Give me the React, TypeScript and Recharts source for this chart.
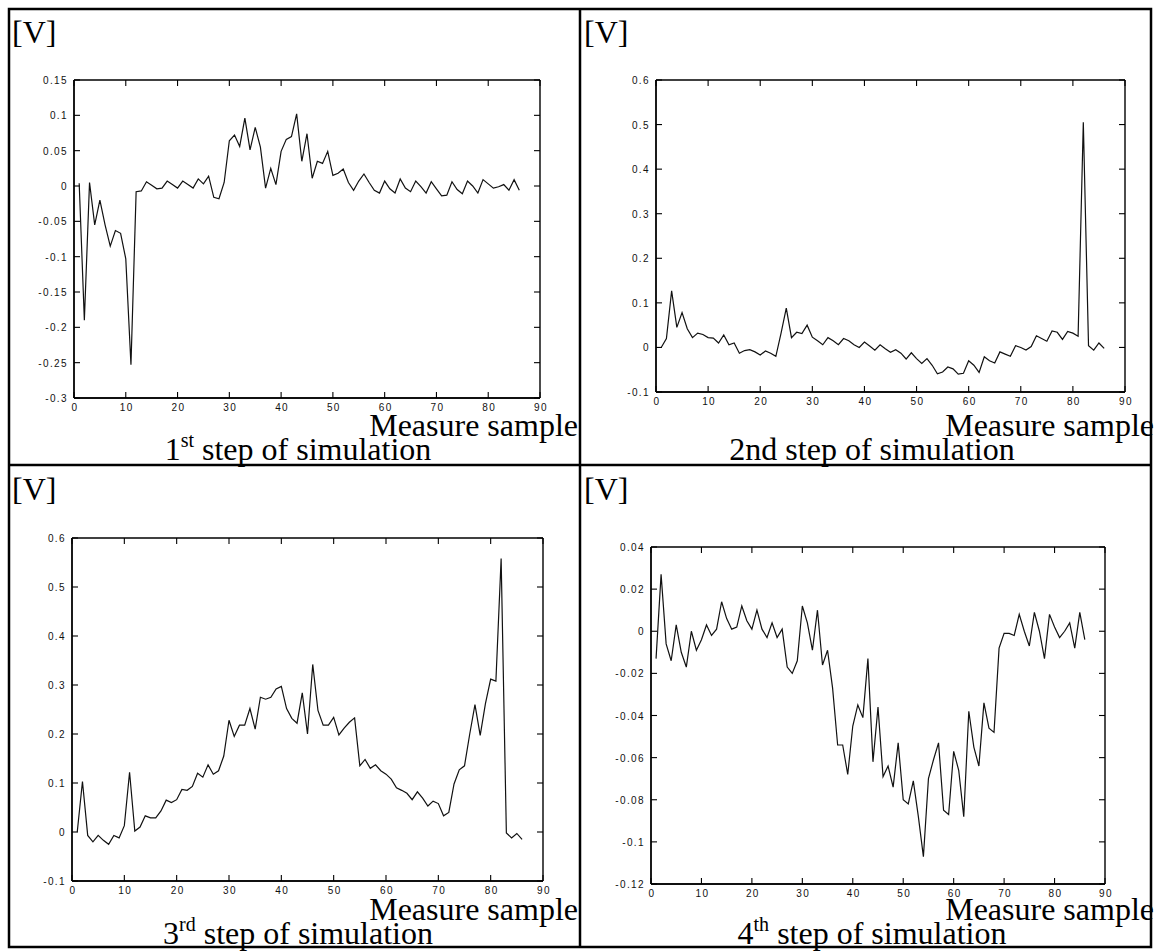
import { LineChart, Line, XAxis, YAxis, ReferenceLine } from "recharts";

// sample index on the x axis
const samples = [
  1, 2, 3, 4, 5, 6, 7, 8, 9, 10, 11, 12, 13, 14, 15, 16, 17, 18, 19, 20, 21, 22,
  23, 24, 25, 26, 27, 28, 29, 30, 31, 32, 33, 34, 35, 36, 37, 38, 39, 40, 41, 42,
  43, 44, 45, 46, 47, 48, 49, 50, 51, 52, 53, 54, 55, 56, 57, 58, 59, 60, 61, 62,
  63, 64, 65, 66, 67, 68, 69, 70, 71, 72, 73, 74, 75, 76, 77, 78, 79, 80, 81, 82,
  83, 84, 85, 86,
];

const xTicks = [0, 10, 20, 30, 40, 50, 60, 70, 80, 90];

// === measured voltages [V] ===
const step1 = [
  0.004, -0.19, 0.005, -0.055, -0.02, -0.055, -0.085, -0.063, -0.067, -0.103,
  -0.253, -0.008, -0.007, 0.006, 0.001, -0.004, -0.003, 0.007, 0.002, -0.003,
  0.007, 0.002, -0.003, 0.01, 0.003, 0.014, -0.016, -0.018, 0.005, 0.064,
  0.072, 0.056, 0.096, 0.051, 0.083, 0.055, -0.003, 0.025, 0.002, 0.049,
  0.066, 0.07, 0.102, 0.035, 0.074, 0.011, 0.035, 0.032, 0.049, 0.015,
  0.018, 0.024, 0.005, -0.006, 0.007, 0.017, 0.005, -0.006, -0.01, 0.007,
  -0.004, -0.01, 0.01, -0.003, -0.008, 0.007, -0.001, -0.01, 0.006, -0.004,
  -0.014, -0.013, 0.006, -0.005, -0.011, 0.007, 0.0, -0.01, 0.009, 0.003,
  -0.003, -0.001, 0.002, -0.006, 0.009, -0.006,
];

const step2 = [
  0.0, 0.02, 0.127, 0.045, 0.078, 0.042, 0.022, 0.032, 0.029, 0.022,
  0.021, 0.01, 0.028, 0.006, 0.01, -0.013, -0.007, -0.005, -0.01, -0.017,
  -0.008, -0.013, -0.02, 0.032, 0.088, 0.022, 0.034, 0.031, 0.05, 0.023,
  0.015, 0.006, 0.022, 0.015, 0.006, 0.02, 0.015, 0.006, 0.0, 0.012,
  0.003, -0.006, 0.006, -0.003, -0.011, -0.005, -0.013, -0.026, -0.012, -0.025,
  -0.036, -0.025, -0.04, -0.059, -0.055, -0.044, -0.048, -0.06, -0.058, -0.03,
  -0.04, -0.056, -0.021, -0.03, -0.035, -0.01, -0.015, -0.02, 0.004, 0.0,
  -0.006, 0.002, 0.026, 0.02, 0.014, 0.037, 0.034, 0.018, 0.036, 0.032,
  0.025, 0.505, 0.004, -0.006, 0.01, -0.002,
];

const step3 = [
  0.0, 0.103, -0.007, -0.02, -0.007, -0.017, -0.025, -0.007, -0.012, 0.013,
  0.122, 0.002, 0.01, 0.033, 0.029, 0.029, 0.043, 0.065, 0.06, 0.066,
  0.087, 0.085, 0.093, 0.12, 0.112, 0.137, 0.118, 0.125, 0.155, 0.228,
  0.195, 0.218, 0.218, 0.252, 0.21, 0.275, 0.271, 0.275, 0.292, 0.297,
  0.252, 0.232, 0.222, 0.284, 0.2, 0.342, 0.248, 0.218, 0.218, 0.234,
  0.198, 0.212, 0.224, 0.233, 0.135, 0.148, 0.13, 0.137, 0.125, 0.118,
  0.108, 0.09, 0.085, 0.079, 0.066, 0.082, 0.069, 0.053, 0.063, 0.058,
  0.033, 0.04, 0.098, 0.127, 0.135, 0.2, 0.26, 0.197, 0.262, 0.312,
  0.308, 0.558, -0.002, -0.012, -0.003, -0.015,
];

const step4 = [
  -0.013, 0.027, -0.006, -0.014, 0.003, -0.01, -0.017, 0.0, -0.009, -0.004,
  0.003, -0.002, 0.001, 0.014, 0.006, 0.001, 0.002, 0.012, 0.005, 0.001,
  0.01, 0.001, -0.003, 0.004, -0.003, 0.001, -0.017, -0.02, -0.014, 0.012,
  0.004, -0.009, 0.01, -0.016, -0.009, -0.027, -0.054, -0.054, -0.068, -0.045,
  -0.035, -0.041, -0.013, -0.062, -0.036, -0.069, -0.064, -0.074, -0.053, -0.08,
  -0.082, -0.071, -0.088, -0.107, -0.07, -0.061, -0.053, -0.085, -0.087, -0.057,
  -0.066, -0.088, -0.038, -0.055, -0.064, -0.034, -0.046, -0.048, -0.008, -0.001,
  -0.001, -0.002, 0.008, 0.0, -0.007, 0.009, 0.0, -0.013, 0.008, 0.002,
  -0.003, 0.0, 0.004, -0.008, 0.009, -0.004,
];

const yTicks1 = [-0.3, -0.25, -0.2, -0.15, -0.1, -0.05, 0, 0.05, 0.1, 0.15];
const yTicks2 = [-0.1, 0, 0.1, 0.2, 0.3, 0.4, 0.5, 0.6];
const yTicks3 = [-0.1, 0, 0.1, 0.2, 0.3, 0.4, 0.5, 0.6];
const yTicks4 = [-0.12, -0.1, -0.08, -0.06, -0.04, -0.02, 0, 0.02, 0.04];

const captions = [
  { num: "1", sup: "st", rest: " step of simulation" },
  { num: "2nd", sup: "", rest: " step of simulation" },
  { num: "3", sup: "rd", rest: " step of simulation" },
  { num: "4", sup: "th", rest: " step of simulation" },
];

const fmt = (v: number) => String(Number(v.toFixed(4)));

const tickFont = {
  fontFamily: "Liberation Sans, Arial, sans-serif",
  fontSize: 10,
  fill: "#111",
  letterSpacing: 1.4,
};

const BottomLabel = (p: any) => (
  <text x={p.x + 1} y={p.y + 13} textAnchor="middle" {...tickFont}>
    {p.payload.value}
  </text>
);
const LeftLabel = (p: any) => (
  <text x={p.x - 6} y={p.y + 4} textAnchor="end" {...tickFont}>
    {fmt(p.payload.value)}
  </text>
);

const TICK_PX = 6; // inward tick length
const W_LEFT = 60;
const H_BOTTOM = 24;
const PAD_TOP = 10;
const PAD_RIGHT = 20;

function Plot({
  values,
  ticks,
  box,
}: {
  values: number[];
  ticks: number[];
  box: { x: number; y: number; w: number; h: number };
}) {
  const data = samples.map((s, i) => ({ s, v: values[i] }));
  const yMin = ticks[0];
  const yMax = ticks[ticks.length - 1];
  const dy = (TICK_PX / box.h) * (yMax - yMin);
  const dx = (TICK_PX / box.w) * 90;
  const tk = { xAxisId: "b", yAxisId: "l", stroke: "#000", strokeWidth: 1.1 };
  const fr = { ...tk, strokeWidth: 1.4 };
  return (
    <div
      style={{
        position: "absolute",
        left: box.x - W_LEFT,
        top: box.y - PAD_TOP,
      }}
    >
      <LineChart
        width={box.w + W_LEFT + PAD_RIGHT}
        height={box.h + H_BOTTOM + PAD_TOP}
        data={data}
        margin={{ top: PAD_TOP, right: PAD_RIGHT, bottom: 0, left: 0 }}
      >
        <XAxis
          xAxisId="b"
          dataKey="s"
          type="number"
          domain={[0, 90]}
          ticks={xTicks}
          interval={0}
          height={H_BOTTOM}
          tickSize={0}
          tickMargin={0}
          tickLine={false}
          tick={BottomLabel}
          stroke="#000"
          strokeWidth={1.3}
        />
        <YAxis
          yAxisId="l"
          type="number"
          domain={[yMin, yMax]}
          ticks={ticks}
          interval={0}
          width={W_LEFT}
          tickSize={0}
          tickMargin={0}
          tickLine={false}
          tick={LeftLabel}
          stroke="#000"
          strokeWidth={1.3}
        />
        {/* box frame */}
        <ReferenceLine {...fr} segment={[{ x: 0, y: yMin }, { x: 90, y: yMin }]} />
        <ReferenceLine {...fr} segment={[{ x: 0, y: yMax }, { x: 90, y: yMax }]} />
        <ReferenceLine {...fr} segment={[{ x: 0, y: yMin }, { x: 0, y: yMax }]} />
        <ReferenceLine {...fr} segment={[{ x: 90, y: yMin }, { x: 90, y: yMax }]} />
        {/* inward ticks on all four sides */}
        {xTicks.map((t) => (
          <ReferenceLine
            key={`b${t}`}
            {...tk}
            segment={[
              { x: t, y: yMin },
              { x: t, y: yMin + dy },
            ]}
          />
        ))}
        {xTicks.map((t) => (
          <ReferenceLine
            key={`t${t}`}
            {...tk}
            segment={[
              { x: t, y: yMax },
              { x: t, y: yMax - dy },
            ]}
          />
        ))}
        {ticks.map((v) => (
          <ReferenceLine
            key={`l${v}`}
            {...tk}
            segment={[
              { x: 0, y: v },
              { x: dx, y: v },
            ]}
          />
        ))}
        {ticks.map((v) => (
          <ReferenceLine
            key={`r${v}`}
            {...tk}
            segment={[
              { x: 90, y: v },
              { x: 90 - dx, y: v },
            ]}
          />
        ))}
        <Line
          xAxisId="b"
          yAxisId="l"
          type="linear"
          dataKey="v"
          stroke="#111"
          strokeWidth={1.2}
          dot={false}
          isAnimationActive={false}
        />
      </LineChart>
    </div>
  );
}

const serif = "Liberation Serif, Times New Roman, serif";

function Texts({
  x0,
  y0,
  right,
  mid,
  yMeasure,
  yCap,
  cap,
}: {
  x0: number;
  y0: number;
  right: number;
  mid: number;
  yMeasure: number;
  yCap: number;
  cap: (typeof captions)[number];
}) {
  return (
    <g fontFamily={serif} fill="#000">
      <text x={x0 + 3} y={y0 + 34} fontSize={32}>
        [V]
      </text>
      <text x={right} y={yMeasure} fontSize={32} textAnchor="end">
        Measure sample
      </text>
      <text x={mid} y={yCap} fontSize={32} textAnchor="middle">
        {cap.num}
        {cap.sup && (
          <tspan fontSize={20} dy={-13}>
            {cap.sup}
          </tspan>
        )}
        {cap.sup ? <tspan dy={13}>{cap.rest}</tspan> : cap.rest}
      </text>
    </g>
  );
}

export default function App() {
  return (
    <div
      style={{
        position: "absolute",
        left: 0,
        top: 0,
        width: 1156,
        height: 951,
        background: "#fff",
      }}
    >
      <Plot values={step1} ticks={yTicks1} box={{ x: 74, y: 80, w: 466, h: 318 }} />
      <Plot values={step2} ticks={yTicks2} box={{ x: 656, y: 80, w: 469, h: 312 }} />
      <Plot values={step3} ticks={yTicks3} box={{ x: 72, y: 538, w: 471, h: 343 }} />
      <Plot values={step4} ticks={yTicks4} box={{ x: 651, y: 547, w: 454, h: 337 }} />
      <svg
        width={1156}
        height={951}
        style={{ position: "absolute", left: 0, top: 0, pointerEvents: "none" }}
      >
        <rect x={9} y={9} width={1142} height={938} fill="none" stroke="#000" strokeWidth={2.5} />
        <line x1={580} y1={9} x2={580} y2={947} stroke="#000" strokeWidth={2.5} />
        <line x1={9} y1={465} x2={1151} y2={465} stroke="#000" strokeWidth={2.5} />
        <Texts x0={9} y0={9} right={578} mid={298} yMeasure={436} yCap={460} cap={captions[0]} />
        <Texts x0={581} y0={9} right={1154} mid={872} yMeasure={436} yCap={460} cap={captions[1]} />
        <Texts x0={9} y0={466} right={578} mid={298} yMeasure={920} yCap={944} cap={captions[2]} />
        <Texts x0={581} y0={466} right={1154} mid={872} yMeasure={920} yCap={944} cap={captions[3]} />
      </svg>
    </div>
  );
}
